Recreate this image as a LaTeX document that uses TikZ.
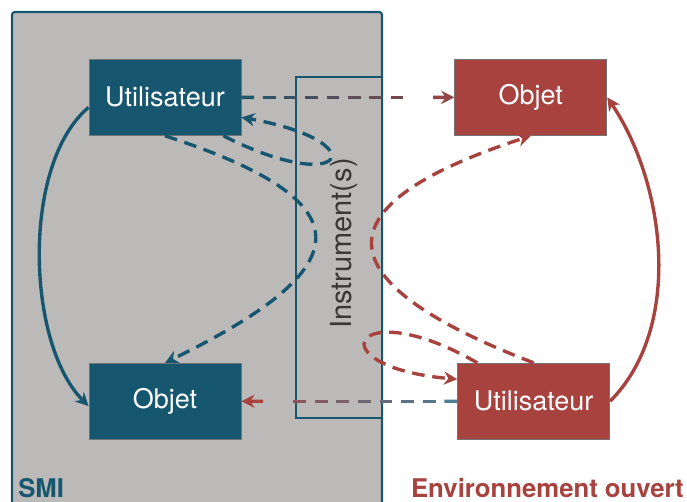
\documentclass[tikz,border=0pt]{standalone}
\usepackage{fontspec}
\setmainfont{TeX Gyre Heros}
\usepackage{tikz}
\usetikzlibrary{arrows.meta,positioning,calc}
\definecolor{smiblue}{HTML}{16566F}
\definecolor{smilight}{HTML}{4D7D95}
\definecolor{envred}{HTML}{A8423F}
\definecolor{smigray}{HTML}{BCBAB8}
\tikzset{
  bluebox/.style={rectangle, draw=black!55, line width=0.6pt, fill=smiblue,
    text=white, minimum width=3.8cm, minimum height=1.9cm, inner sep=0pt,
    font=\fontsize{19.2}{22}\selectfont},
  redbox/.style={bluebox, fill=envred},
  instr/.style={rectangle, draw=smiblue, line width=1.5pt, fill=smigray,
    minimum width=8.525cm, minimum height=2.15cm, inner sep=0pt, rotate=90},
  instrtext/.style={rotate=90, text=black!78, inner sep=0pt,
    font=\fontsize{20.6}{24}\selectfont},
  zone/.style={font=\fontsize{18.3}{22}\selectfont\bfseries, inner sep=0pt},
  link/.style={line width=2.4pt, dash pattern=on 9pt off 5.5pt,
    -{Stealth[length=3.3mm, width=3.3mm]}},
  bluelink/.style={link, draw=smiblue},
  redlink/.style={link, draw=envred},
  gradseg/.style={line width=2.4pt},
}

\begin{document}
\begin{tikzpicture}
  \useasboundingbox (0,0) rectangle (17.175,12.525);
  % zone SMI
  \draw[line width=1.5pt, draw=smiblue, fill=smigray, rounded corners=2pt]
    (0.3,-0.5) rectangle (9.55,12.225);
  \node[instr] (instr) at (8.475,6.3375) {};
  \node[instrtext] (instrlbl) at ([xshift=0.12cm, yshift=0.1cm]instr.center) {Instrument(s)};
  \node[zone, text=smiblue, anchor=base west] (smi) at (0.45,0.1) {SMI};
  \node[zone, text=envred, anchor=base east] (env) at (17.1,0.1) {Environnement ouvert};
  % noeuds
  \node[bluebox] (bu) at (4.125,10.09) {Utilisateur};
  \node[bluebox, below=5.675cm of bu] (bo) {Objet};
  \node[redbox, right=5.325cm of bu] (ro) {Objet};
  \node[redbox, below=5.675cm of ro, xshift=0.07cm] (ru) {Utilisateur};
  % liens
  \draw[bluelink, solid] ([yshift=-0.25cm]bu.west) .. controls +(220:2.2) and +(135:2.2) .. ([yshift=-0.12cm]bo.west);
  \draw[redlink, solid] (ru.east) .. controls +(45:2.6) and +(-56:2.6) .. (ro.east);
  \draw[bluelink] (bu.south) .. controls +(-18:5.4) and +(26:5.4) .. (bo.north);
  \draw[bluelink] ([xshift=-0.45cm]bu.south east) .. controls +(-27:3.45) and +(-10:3.45) .. ([yshift=-0.5cm]bu.east);
  \draw[redlink] (ru.north) .. controls +(159:5.65) and +(198:5.65) .. (ro.south);
  \draw[redlink] ([xshift=0.5cm]ru.north west) .. controls +(150:3.6) and +(175:3.6) .. ([yshift=0.55cm]ru.west);
  % liens traversants (degrade)
  \foreach \t [evaluate=\t as \p using 92-82*\t, evaluate=\t as \e using \t+0.06] in {0,0.1,...,0.8}
    \draw[gradseg, draw=smiblue!\p!envred] ($(bu.east)!\t!(ro.west)$) -- ($(bu.east)!\e!(ro.west)$);
  \draw[gradseg, draw=envred!85!smiblue, -{Stealth[length=3.3mm, width=3.3mm]}] ($(bu.east)!0.9!(ro.west)$) -- (ro.west);
  \foreach \t [evaluate=\t as \p using 100-95*\t, evaluate=\t as \e using \t+0.06] in {0,0.1,...,0.8}
    \draw[gradseg, draw=smilight!\p!envred] ($(ru.west)!\t!(bo.east)$) -- ($(ru.west)!\e!(bo.east)$);
  \draw[gradseg, draw=envred, -{Stealth[length=3.3mm, width=3.3mm]}] ($(ru.west)!0.9!(bo.east)$) -- (bo.east);
\end{tikzpicture}
\end{document}
